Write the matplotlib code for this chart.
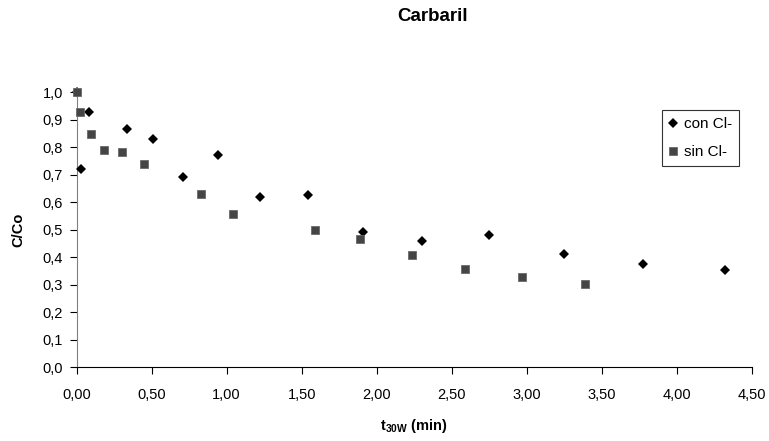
import matplotlib.pyplot as plt
from matplotlib.ticker import FuncFormatter, MultipleLocator

plt.rcParams['font.family'] = ['Liberation Sans', 'DejaVu Sans']
plt.rcParams['mathtext.fontset'] = 'custom'
plt.rcParams['mathtext.rm'] = 'Liberation Sans'
plt.rcParams['mathtext.bf'] = 'Liberation Sans:bold'

# C/Co against t30W for carbaryl, with and without chloride
con_x = [0.0, 0.027, 0.084, 0.333, 0.511, 0.711, 0.944, 1.222, 1.544, 1.906, 2.304, 2.747, 3.247, 3.773, 4.322]
con_y = [1.0, 0.721, 0.927, 0.867, 0.831, 0.691, 0.771, 0.620, 0.625, 0.492, 0.460, 0.481, 0.411, 0.376, 0.355]
sin_x = [0.0, 0.022, 0.095, 0.180, 0.300, 0.449, 0.829, 1.040, 1.587, 1.891, 2.235, 2.587, 2.967, 3.391]
sin_y = [1.0, 0.929, 0.848, 0.789, 0.784, 0.739, 0.629, 0.559, 0.498, 0.468, 0.407, 0.357, 0.328, 0.303]

fig = plt.figure(figsize=(7.69, 4.41), dpi=100)
ax = fig.add_axes([0.0997, 0.167, 0.8778, 0.6237])

ax.plot(con_x, con_y, 'D', color='black', markersize=5.0, markeredgewidth=0,
        label='con Cl-', clip_on=False, zorder=3)
ax.plot(sin_x, sin_y, 's', color='#454545', markersize=6.0, markeredgewidth=0.6,
        markeredgecolor='#6a6a6a', label='sin Cl-', clip_on=False, zorder=4)

ax.set_xlim(0, 4.5)
ax.set_ylim(0, 1.0)
ax.xaxis.set_major_locator(MultipleLocator(0.5))
ax.yaxis.set_major_locator(MultipleLocator(0.1))
ax.xaxis.set_major_formatter(FuncFormatter(lambda v, p: f'{v:.2f}'.replace('.', ',')))
ax.yaxis.set_major_formatter(FuncFormatter(lambda v, p: f'{v:.1f}'.replace('.', ',')))

for side in ('top', 'right'):
    ax.spines[side].set_visible(False)
ax.spines['left'].set_color('#808080')
ax.spines['bottom'].set_color('black')
ax.tick_params(direction='out', length=5, width=0.8, labelsize=10.5, color='black')
ax.tick_params(axis='x', pad=10)
ax.tick_params(axis='y', pad=5)

ax.set_xlabel(r'$\mathbf{t_{30W}}$ (min)', fontsize=10.5, fontweight='bold', labelpad=11)
ax.set_ylabel('C/Co', fontsize=10.5, fontweight='bold', labelpad=12)

fig.text(0.563, 0.963, 'Carbaril', fontsize=13.5, fontweight='bold', ha='center', va='center')

leg = ax.legend(loc='upper right', bbox_to_anchor=(739 / 769, 1 - 110 / 441),
                bbox_transform=fig.transFigure, fontsize=11, frameon=True, fancybox=False,
                handlelength=0.6, handletextpad=0.4, borderpad=0.45, labelspacing=0.95,
                borderaxespad=0)
leg.get_frame().set_edgecolor('black')
leg.get_frame().set_linewidth(0.8)

fig.savefig('out.png', dpi=100)
